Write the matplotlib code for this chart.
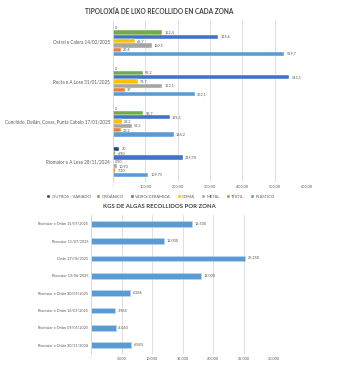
import numpy as np
import matplotlib.pyplot as plt

plt.rcParams['font.family'] = ['Lato', 'DejaVu Sans']

# --- top chart data ---
zones = ['Ostral e Calera 14/02/2025', 'Recta e A Lose 31/01/2025',
         'Cunchido, Dellán, Covas, Punta Cabalo 17/01/2025', 'Riomaior e A Lose 28/11/2024']
series = ['OUTROS - VARIADO', 'ORGÁNICO', 'VIDRO/CERÁMICA', 'GOMA', 'METAL', 'TÉXTIL', 'PLÁSTICO']
colors = ['#264478', '#70AD47', '#4472C4', '#FFC000', '#A5A5A5', '#ED7D31', '#5B9BD5']
outros = [0, 0, 0, 20]
organico = [152.4, 92.2, 93.7, 6.90]
vidro = [325.6, 545.1, 176.1, 215.70]
goma = [68.7, 76.7, 28.2, 0.90]
metal = [120.1, 152.1, 58.2, 10.90]
textil = [25.4, 37, 23.2, 7.20]
plastico = [529.7, 252.1, 188.2, 109.75]
decimals = [1, 1, 1, 2]
top_ticks = [0, 100, 200, 300, 400, 500, 600]
top_ticklabels = ['-', '100,00', '200,00', '300,00', '400,00', '500,00', '600,00']

# --- bottom chart data ---
algas_zones = ['Riomaior e Orión 15/07/2025', 'Riomaior 11/07/2025', 'Orión 27/06/2025',
               'Riomaior 13/06/2025', 'Riomaior e Orión 30/05/2025', 'Riomaior e Orión 16/05/2025',
               'Riomaior e Orión 09/05/2025', 'Riomaior e Orión 30/11/2024']
algas_kg = [16500, 12000, 25250, 18000, 6386, 3965, 4040, 6580]
bottom_ticks = [0, 5000, 10000, 15000, 20000, 25000, 30000]
bottom_ticklabels = ['-', '5.000', '10.000', '15.000', '20.000', '25.000', '30.000']

txt = '#595959'
grid = '#D9D9D9'


def fmt_top(v, d):
    # zeros and whole numbers in the 1-decimal groups are shown bare
    if v == 0 or v == int(v):
        return str(int(v))
    return f'{v:.{d}f}'.replace('.', ',')


def fmt_kg(v):
    return f'{v:,}'.replace(',', '.')


fig = plt.figure(figsize=(3.43, 3.74), dpi=100)
fig.patch.set_facecolor('white')

# ---------- top chart ----------
ax = fig.add_axes([113 / 343, 1 - 182 / 374, (307 - 113) / 343, (182 - 21) / 374])
data = [outros, organico, vidro, goma, metal, textil, plastico]
y = np.arange(len(zones))
h = 0.106
for i, (name, vals, c) in enumerate(zip(series, data, colors)):
    pos = y + (i - 3) * h
    ax.barh(pos, vals, height=h, color=c, edgecolor='white', linewidth=0.3, label=name)
    for p, v, d in zip(pos, vals, decimals):
        ax.annotate(fmt_top(v, d), (v, p), xytext=(1.5, 0), textcoords='offset points',
                    va='center', ha='left', fontsize=2.8, color=txt)
ax.set_ylim(3.5, -0.5)
ax.set_xlim(0, 600)
ax.set_yticks(y)
ax.set_yticklabels(zones, fontsize=3.3, color=txt)
ax.set_xticks(top_ticks)
ax.set_xticklabels(top_ticklabels, fontsize=2.8, color=txt)
ax.tick_params(length=0, pad=2)
ax.grid(axis='x', color=grid, linewidth=0.6)
ax.set_axisbelow(True)
for s in ['top', 'right', 'bottom']:
    ax.spines[s].set_visible(False)
ax.spines['left'].set_color(grid)
ax.spines['left'].set_linewidth(0.6)

fig.text(159 / 343, 1 - 12 / 374, 'TIPOLOXÍA DE LIXO RECOLLIDO EN CADA ZONA',
         ha='center', va='center', fontsize=4.7, color='#404040', fontweight='bold')

fig.legend(loc='center', bbox_to_anchor=(161 / 343, 1 - 197 / 374), ncol=7, frameon=False,
           fontsize=3, labelcolor=txt, handlelength=0.7, handleheight=0.7,
           handletextpad=0.4, columnspacing=1.6)

# ---------- bottom chart ----------
ax2 = fig.add_axes([91 / 343, 1 - 354 / 374, (274 - 91) / 343, (354 - 215) / 374])
y2 = np.arange(len(algas_zones))
ax2.barh(y2, algas_kg, height=0.33, color='#5B9BD5', edgecolor='#BDD7EE', linewidth=0.4)
for p, v in zip(y2, algas_kg):
    ax2.annotate(fmt_kg(v), (v, p), xytext=(2, 0), textcoords='offset points',
                 va='center', ha='left', fontsize=2.8, color=txt)
ax2.set_ylim(7.5, -0.5)
ax2.set_xlim(0, 30000)
ax2.set_yticks(y2)
ax2.set_yticklabels(algas_zones, fontsize=2.7, color=txt)
ax2.set_xticks(bottom_ticks)
ax2.set_xticklabels(bottom_ticklabels, fontsize=2.8, color=txt)
ax2.tick_params(length=0, pad=2)
ax2.grid(axis='x', color=grid, linewidth=0.6)
ax2.set_axisbelow(True)
for s in ['top', 'right', 'bottom']:
    ax2.spines[s].set_visible(False)
ax2.spines['left'].set_color(grid)
ax2.spines['left'].set_linewidth(0.6)

fig.text(159 / 343, 1 - 207 / 374, 'KGS DE ALGAS RECOLLIDOS POR ZONA',
         ha='center', va='center', fontsize=4.3, color='#404040', fontweight='bold')

fig.savefig('out.png', dpi=100)
